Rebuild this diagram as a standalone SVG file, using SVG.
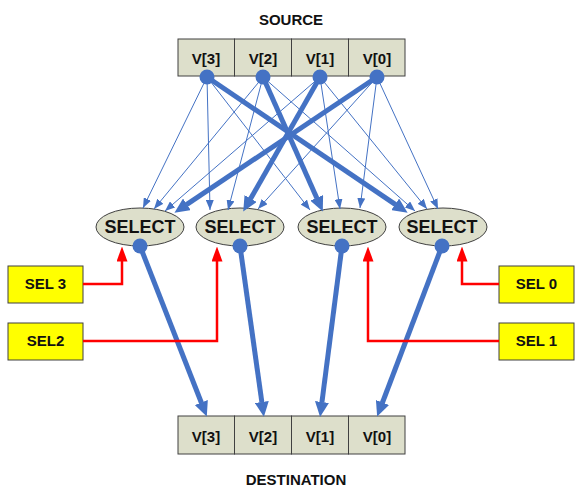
<svg xmlns="http://www.w3.org/2000/svg" width="584" height="498" viewBox="0 0 584 498">
<style>
.cell{fill:#DDDFCB;stroke:#404040;stroke-width:1}
.ell{fill:#DDDFCB;stroke:#404040;stroke-width:1}
.sel{fill:#FFFF00;stroke:#404040;stroke-width:1}
.dot{fill:#4472C4}
text{font-family:"Liberation Sans",Arial,sans-serif;font-weight:bold;fill:#111;text-anchor:middle}
.vt{font-size:15px}
.st{font-size:18px}
.lt{font-size:15px}
.thin{stroke:#4472C4;stroke-width:1;fill:none;marker-end:url(#ah-thin)}
.thick{stroke:#4472C4;stroke-width:5;fill:none;marker-end:url(#ah-thick)}
.red{stroke:#FF0000;stroke-width:2.5;fill:none;marker-end:url(#ah-red)}
</style>
<defs>
<marker id="ah-thin" markerUnits="userSpaceOnUse" viewBox="0 0 10 8" markerWidth="10" markerHeight="8" refX="10" refY="4" orient="auto"><path d="M0,0 L10,4 L0,8 z" fill="#4472C4"/></marker>
<marker id="ah-thick" markerUnits="userSpaceOnUse" viewBox="0 0 15 14" markerWidth="15" markerHeight="14" refX="0.5" refY="7" orient="auto"><path d="M0,0 L15,7 L0,14 z" fill="#4472C4"/></marker>
<marker id="ah-red" markerUnits="userSpaceOnUse" viewBox="0 0 15 11" markerWidth="15" markerHeight="11" refX="0.5" refY="5.5" orient="auto"><path d="M0,0 L15,5.5 L0,11 z" fill="#FF0000"/></marker>
</defs>
<rect width="584" height="498" fill="#FFFFFF"/>
<text x="291" y="25" class="lt">SOURCE</text>
<text x="296" y="485" class="lt">DESTINATION</text>
<g id="source">
<rect class="cell" x="178" y="39" width="56.5" height="37"/>
<rect class="cell" x="234.5" y="39" width="57" height="37"/>
<rect class="cell" x="291.5" y="39" width="57" height="37"/>
<rect class="cell" x="348.5" y="39" width="56.5" height="37"/>
<text x="206" y="64" class="vt">V[3]</text>
<text x="263" y="64" class="vt">V[2]</text>
<text x="320" y="64" class="vt">V[1]</text>
<text x="377" y="64" class="vt">V[0]</text>
</g>
<g id="destination">
<rect class="cell" x="178" y="416" width="56.5" height="38"/>
<rect class="cell" x="234.5" y="416" width="57" height="38"/>
<rect class="cell" x="291.5" y="416" width="57" height="38"/>
<rect class="cell" x="348.5" y="416" width="56.5" height="38"/>
<text x="206" y="442" class="vt">V[3]</text>
<text x="263" y="442" class="vt">V[2]</text>
<text x="320" y="442" class="vt">V[1]</text>
<text x="377" y="442" class="vt">V[0]</text>
</g>
<g id="select3"><ellipse class="ell" cx="140" cy="227" rx="44" ry="19"/><text x="140" y="233" class="st">SELECT</text></g>
<g id="select2"><ellipse class="ell" cx="240" cy="227" rx="44" ry="19"/><text x="240" y="233" class="st">SELECT</text></g>
<g id="select1"><ellipse class="ell" cx="342" cy="227" rx="44" ry="19"/><text x="342" y="233" class="st">SELECT</text></g>
<g id="select0"><ellipse class="ell" cx="443" cy="227" rx="44" ry="19"/><text x="442" y="233" class="st">SELECT</text></g>
<g id="sel3"><rect class="sel" x="8" y="266" width="75" height="37"/><text x="45.5" y="289" class="lt">SEL 3</text></g>
<g id="sel2"><rect class="sel" x="8" y="323" width="75" height="37"/><text x="45.5" y="346" class="lt">SEL2</text></g>
<g id="sel0"><rect class="sel" x="499" y="266" width="75" height="37"/><text x="536.5" y="289" class="lt">SEL 0</text></g>
<g id="sel1"><rect class="sel" x="499" y="323" width="75" height="37"/><text x="536.5" y="346" class="lt">SEL 1</text></g>
<g id="connectors">
<path class="thin" d="M207,77 L143,208"/>
<path class="thin" d="M207,77 L210,210"/>
<path class="thin" d="M207,77 L310,210"/>
<path class="thin" d="M263,77 L154,209"/>
<path class="thin" d="M263,77 L228,210"/>
<path class="thin" d="M263,77 L415,211"/>
<path class="thin" d="M320,77 L165,211"/>
<path class="thin" d="M320,77 L340,209"/>
<path class="thin" d="M320,77 L427,209"/>
<path class="thin" d="M377,77 L258,209"/>
<path class="thin" d="M377,77 L360,208"/>
<path class="thin" d="M377,77 L438,209"/>
<path class="thick" d="M207,77 L395.6,204.6"/>
<path class="thick" d="M263,77 L316.9,198.3"/>
<path class="thick" d="M320,77 L250.4,199"/>
<path class="thick" d="M377,77 L186.5,204.6"/>
<path class="thick" d="M140,246 L201.5,403"/>
<path class="thick" d="M240,246 L261.9,402.5"/>
<path class="thick" d="M342,246 L321.9,402.5"/>
<path class="thick" d="M442,246 L382.3,403"/>
<path class="red" d="M83,284 H122 V261"/>
<path class="red" d="M83,341 H217 V261"/>
<path class="red" d="M499,284 H462 V261"/>
<path class="red" d="M499,341 H368 V261"/>
<circle class="dot" cx="207" cy="77" r="7.5"/>
<circle class="dot" cx="263" cy="77" r="7.5"/>
<circle class="dot" cx="320" cy="77" r="7.5"/>
<circle class="dot" cx="377" cy="77" r="7.5"/>
<circle class="dot" cx="140" cy="246" r="7.5"/>
<circle class="dot" cx="240" cy="246" r="7.5"/>
<circle class="dot" cx="342" cy="246" r="7.5"/>
<circle class="dot" cx="442" cy="246" r="7.5"/>
</g>
</svg>
